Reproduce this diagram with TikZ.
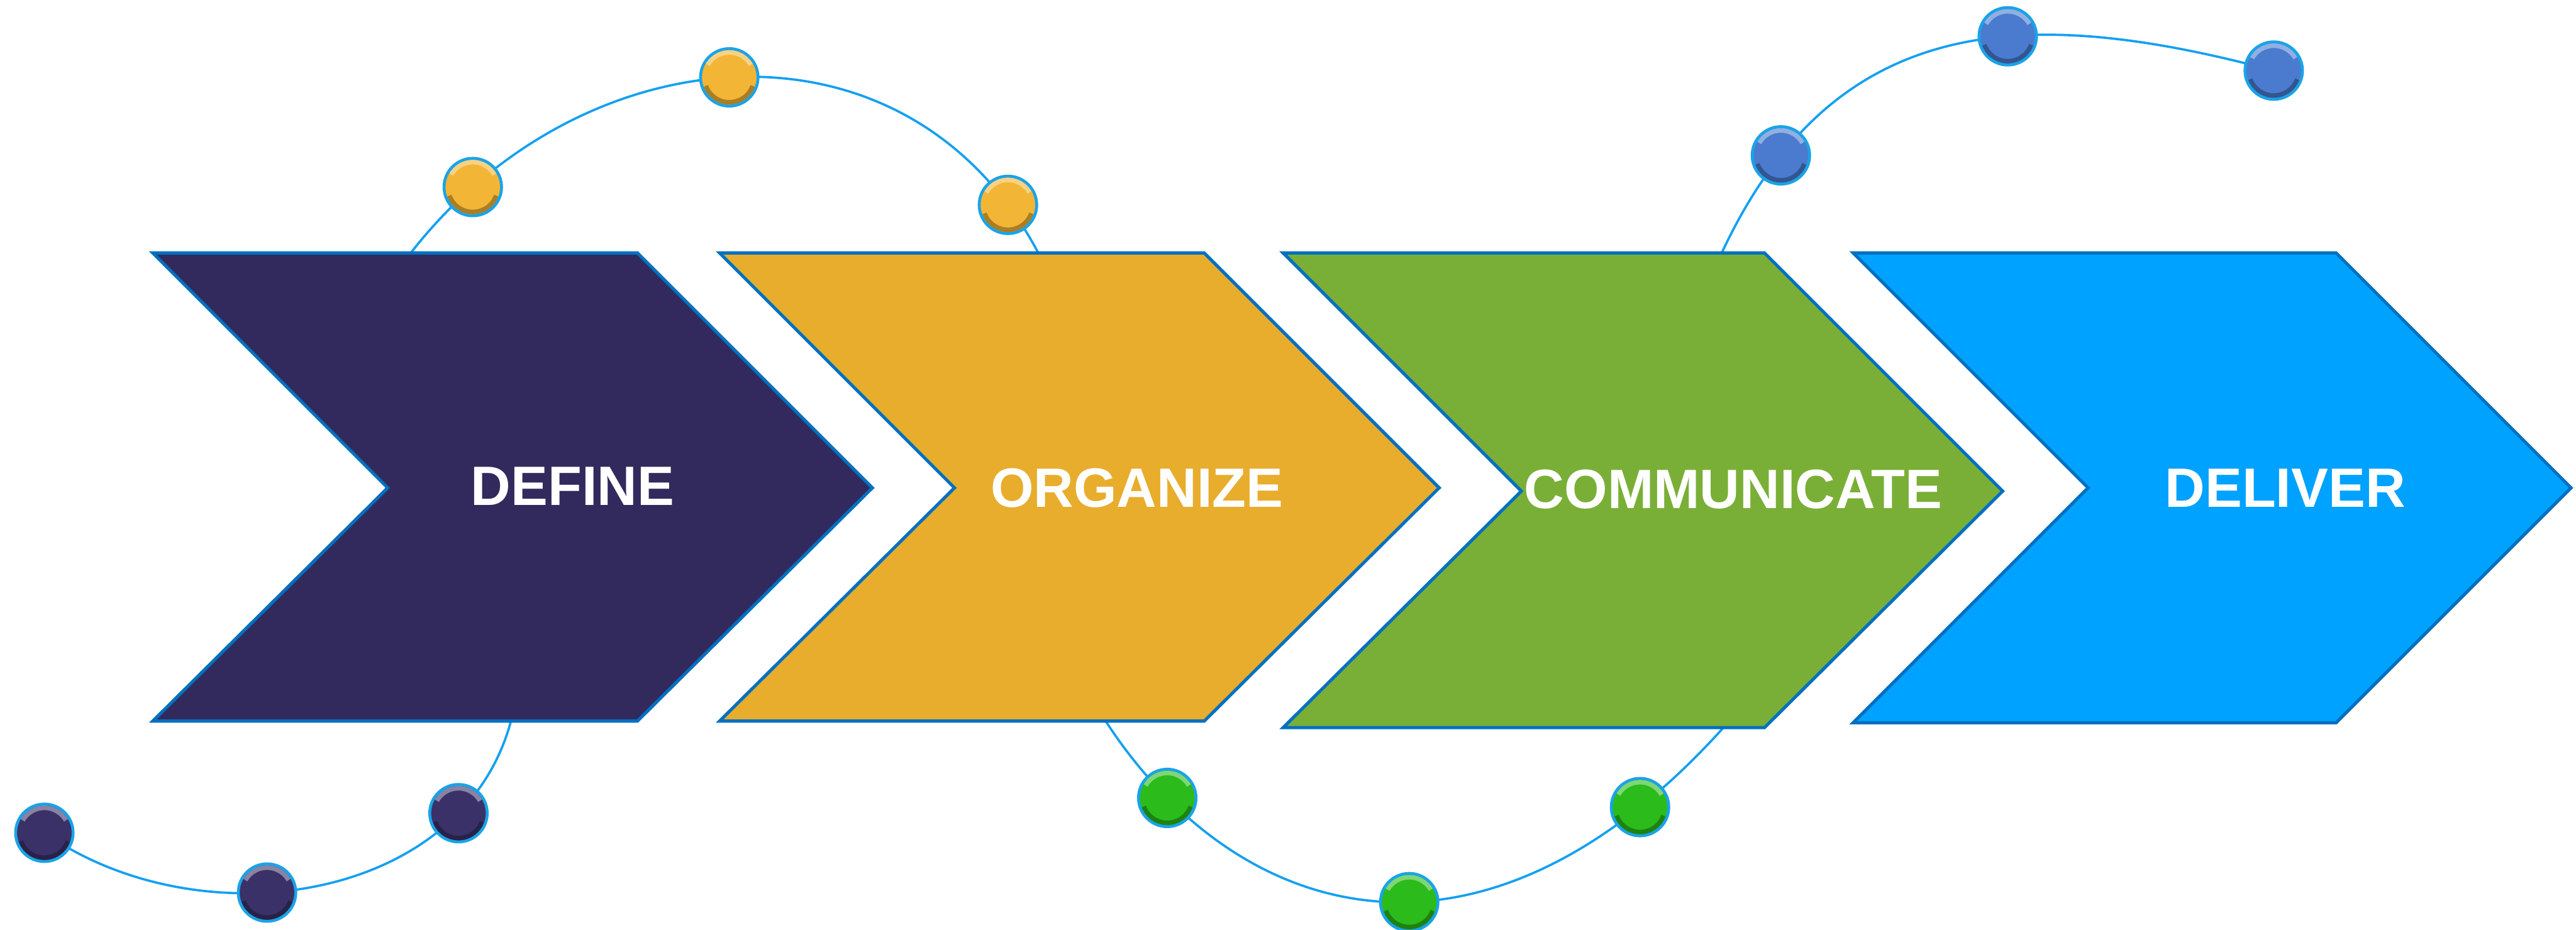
\documentclass[tikz,border=0pt]{standalone}
\usepackage{fontspec}
\setmainfont{Liberation Sans}
\usepackage{xcolor}
\usepackage{tikz}

\definecolor{navy}{HTML}{322A5C}
\definecolor{amber}{HTML}{E8AD2C}
\definecolor{leaf}{HTML}{7AAF37}
\definecolor{sky}{HTML}{00A2FF}
\definecolor{rim}{HTML}{0070C0}
\definecolor{wirec}{HTML}{14A0F0}
\definecolor{beadrim}{HTML}{1AA3E8}
\definecolor{navyb}{HTML}{3A3168}
\definecolor{amberb}{HTML}{F3B535}
\definecolor{leafb}{HTML}{2BBB1B}
\definecolor{skyb}{HTML}{4A7BCF}

\begin{document}
\begin{tikzpicture}[line join=miter]
\tikzstyle{chev}=[draw=rim,line width=0.55pt]
\tikzstyle{lbl}=[text=white,font=\bfseries\fontsize{9.6}{11}\selectfont,inner sep=0pt]
\tikzstyle{wire}=[draw=wirec,line width=0.4pt]
\tikzstyle{bead}=[circle,minimum size=0.35cm,inner sep=0pt,draw=beadrim,line width=0.5pt,
  path picture={
    \draw[white,opacity=.4,line width=.8pt] ([shift={(150:.152)}]path picture bounding box.center) arc (150:30:.152);
    \draw[black,opacity=.3,line width=.8pt] ([shift={(-20:.152)}]path picture bounding box.center) arc (-20:-160:.152);
  }]
\useasboundingbox (0,0) rectangle (15.68,5.66);

% where the strings leave the chevrons
\coordinate (s1) at (3.11,1.27);
\coordinate (s2) at (2.50,4.12);
\coordinate (e2) at (6.32,4.12);
\coordinate (s3) at (6.73,1.27);
\coordinate (e3) at (10.49,1.23);
\coordinate (s4) at (10.48,4.12);
\coordinate (t1) at (0.27,0.59);
\coordinate (t4) at (13.84,5.23);

% strings with their beads
\draw[wire] (s1) .. controls (2.812,0.159) and (1.212,-0.070) .. (t1)
  node[bead,fill=navyb,pos=.2] (d3) {}
  node[bead,fill=navyb,pos=.59] (d2) {}
  node[bead,fill=navyb,pos=1] (d1) {};
\draw[wire] (s2) .. controls (3.553,5.468) and (5.518,5.630) .. (e2)
  node[bead,fill=amberb,pos=.11] (o1) {}
  node[bead,fill=amberb,pos=.485] (o2) {}
  node[bead,fill=amberb,pos=.93] (o3) {};
\draw[wire] (s3) .. controls (7.531,0.037) and (9.018,-0.405) .. (e3)
  node[bead,fill=leafb,pos=.14] (g1) {}
  node[bead,fill=leafb,pos=.555] (g2) {}
  node[bead,fill=leafb,pos=.885] (g3) {};
\draw[wire] (s4) .. controls (11.157,5.570) and (12.294,5.644) .. (t4)
  node[bead,fill=skyb,pos=.16] (b1) {}
  node[bead,fill=skyb,pos=.61] (b2) {}
  node[bead,fill=skyb,pos=1] (b3) {};

% the four stages
\filldraw[chev,fill=navy] (0.93,4.12) -- (3.88,4.12) -- (5.31,2.69) -- (3.88,1.27) -- (0.93,1.27) -- (2.36,2.69) -- cycle;
\filldraw[chev,fill=amber] (4.38,4.12) -- (7.33,4.12) -- (8.76,2.69) -- (7.33,1.27) -- (4.38,1.27) -- (5.81,2.69) -- cycle;
\filldraw[chev,fill=leaf] (7.81,4.12) -- (10.74,4.12) -- (12.19,2.67) -- (10.74,1.23) -- (7.81,1.23) -- (9.26,2.67) -- cycle;
\filldraw[chev,fill=sky] (11.28,4.12) -- (14.22,4.12) -- (15.65,2.69) -- (14.22,1.26) -- (11.28,1.26) -- (12.71,2.69) -- cycle;

\node[lbl] (def) at (3.485,2.70) {DEFINE};
\node[lbl] (org) at (6.92,2.69) {ORGANIZE};
\node[lbl] (com) at (10.55,2.68) {COMMUNICATE};
\node[lbl] (del) at (13.91,2.69) {DELIVER};
\end{tikzpicture}
\end{document}
